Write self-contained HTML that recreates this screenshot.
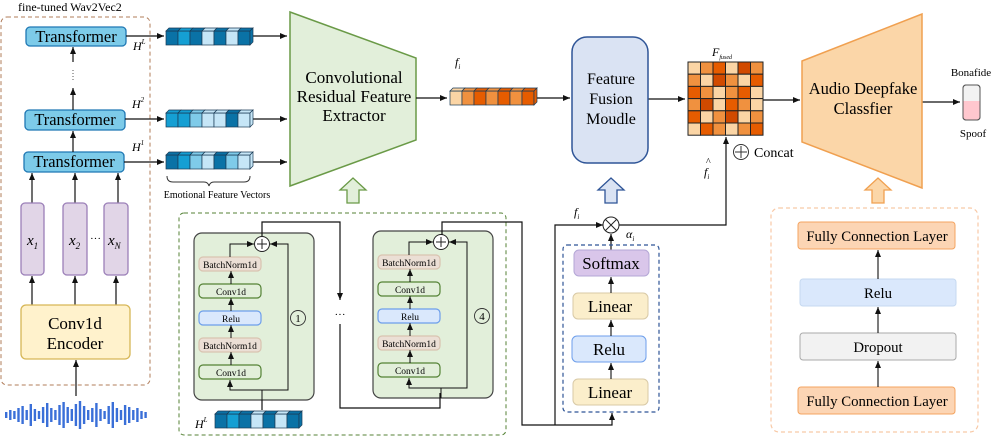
<!DOCTYPE html>
<html><head><meta charset="utf-8"><style>
html,body{margin:0;padding:0;background:#fff}
svg{display:block;font-family:"Liberation Serif",serif}
</style></head><body>
<svg id="s" width="996" height="437" viewBox="0 0 996 437" xmlns="http://www.w3.org/2000/svg">
<defs>
<marker id="a" markerWidth="8" markerHeight="8" refX="7" refY="4" orient="auto" markerUnits="userSpaceOnUse"><path d="M0,1 L7,4 L0,7 z" fill="#111"/></marker>
</defs>
<rect x="1" y="17" width="149" height="368" rx="6" fill="none" stroke="#b07c5a" stroke-dasharray="4,3"/>
<text x="18" y="11" font-size="12">fine-tuned Wav2Vec2</text>
<g stroke="#1f78b4" stroke-width="1.3" fill="#7dcbe9">
<rect x="26" y="27" width="100" height="19" rx="4"/>
<rect x="25" y="110" width="100" height="20" rx="4"/>
<rect x="24" y="152" width="100" height="20" rx="4"/>
</g>
<g font-size="16.4" text-anchor="middle"><text x="76" y="42">Transformer</text><text x="75" y="125">Transformer</text><text x="74" y="167">Transformer</text></g>
<g stroke="#111" stroke-width="1.2" fill="none" marker-end="url(#a)">
<line x1="73" y1="110" x2="73" y2="88"/><line x1="73" y1="62" x2="73" y2="47"/>
<line x1="73" y1="152" x2="73" y2="131"/>
<line x1="32" y1="203" x2="32" y2="173"/><line x1="75" y1="203" x2="75" y2="173"/><line x1="118" y1="203" x2="118" y2="173"/>
<line x1="32" y1="305" x2="32" y2="276"/><line x1="75" y1="305" x2="75" y2="276"/><line x1="116" y1="305" x2="116" y2="276"/>
<line x1="76" y1="396" x2="76" y2="360"/>
<line x1="126" y1="36" x2="164" y2="36"/><line x1="125" y1="119" x2="164" y2="119"/><line x1="124" y1="162" x2="164" y2="162"/>
<line x1="250" y1="36" x2="287" y2="36"/><line x1="250" y1="119" x2="287" y2="119"/><line x1="250" y1="162" x2="287" y2="162"/>
</g>
<line x1="73" y1="70" x2="73" y2="82" stroke="#555" stroke-dasharray="1,2"/>
<g stroke="#9b7fb8" stroke-width="1.3" fill="#e1d5e7">
<rect x="21" y="203" width="23" height="72" rx="4"/><rect x="63" y="203" width="24" height="72" rx="4"/><rect x="104" y="203" width="24" height="72" rx="4"/>
</g>
<g font-size="15" font-style="italic"><text x="27" y="245">x<tspan font-size="9" dy="4">1</tspan></text><text x="69" y="245">x<tspan font-size="9" dy="4">2</tspan></text><text x="108" y="245">x<tspan font-size="9" dy="4">N</tspan></text></g>
<text x="90" y="242" font-size="11">···</text>
<rect x="21" y="305" width="109" height="54" rx="5" fill="#fff2cc" stroke="#d6b656" stroke-width="1.3"/>
<g font-size="17" text-anchor="middle"><text x="75" y="329">Conv1d</text><text x="75" y="349">Encoder</text></g>
<g font-size="12" font-style="italic"><text x="133" y="50">H<tspan font-size="7" dy="-6">L</tspan></text><text x="132" y="108">H<tspan font-size="7" dy="-6">2</tspan></text><text x="132" y="151">H<tspan font-size="7" dy="-6">1</tspan></text>
<text x="195" y="428">H<tspan font-size="7" dy="-6">L</tspan></text><text x="455" y="66">f<tspan font-size="7" dy="3">i</tspan></text>
<text x="574" y="216">f<tspan font-size="7" dy="3">i</tspan></text><text x="626" y="238">α<tspan font-size="7" dy="3">i</tspan></text>
<text x="704" y="176">f<tspan font-size="7" dy="3">i</tspan></text><text x="712" y="56">F<tspan font-size="6" dy="3">fused</tspan></text></g>
<text x="706" y="165" font-size="10">^</text>
<path d="M167,176 q0,6 6,6 h31 q4,0 5,4 q1,-4 5,-4 h30 q6,0 6,-6" fill="none" stroke="#333"/>
<text x="217" y="198" font-size="10" text-anchor="middle">Emotional Feature Vectors</text>
<path d="M290,12 L416,58 L416,140 L290,186 Z" fill="#e2efda" stroke="#6a9a47" stroke-width="1.5"/>
<g font-size="17" text-anchor="middle"><text x="354" y="83">Convolutional</text><text x="354" y="102">Residual Feature</text><text x="354" y="121">Extractor</text></g>
<g stroke="#111" stroke-width="1.2" fill="none" marker-end="url(#a)">
<line x1="416" y1="98" x2="447" y2="98"/><line x1="536" y1="98" x2="570" y2="98"/>
<line x1="648" y1="99" x2="685" y2="99"/><line x1="763" y1="100" x2="800" y2="100"/><line x1="922" y1="102" x2="960" y2="102"/>
</g>
<rect x="572" y="37" width="76" height="126" rx="15" fill="#dae3f3" stroke="#2f5597" stroke-width="1.5"/>
<g font-size="16" text-anchor="middle"><text x="611" y="84">Feature</text><text x="611" y="104">Fusion</text><text x="611" y="124">Moudle</text></g>
<path d="M802,61 L922,14 L922,188 L802,142 Z" fill="#fbd6a8" stroke="#f0a050" stroke-width="1.5"/>
<g font-size="16.5" text-anchor="middle"><text x="863" y="94">Audio Deepfake</text><text x="863" y="114">Classfier</text></g>
<text x="971" y="76" font-size="11" text-anchor="middle">Bonafide</text><text x="973" y="137" font-size="11" text-anchor="middle">Spoof</text>
<rect x="963" y="85" width="17" height="35" rx="3" fill="#f2f2f2" stroke="#555"/>
<path d="M963.5,101 h16 v16 q0,2.5 -3,2.5 h-10 q-3,0 -3,-2.5 z" fill="#ffc7ce"/>
<rect x="963" y="85" width="17" height="35" rx="3" fill="none" stroke="#555"/>
<circle cx="741" cy="152" r="7.5" fill="none" stroke="#333"/><path d="M735,152h12M741,146v12" stroke="#333"/>
<text x="754" y="157" font-size="14">Concat</text>
<path d="M347,203 v-13 h-7 l13,-12 l13,12 h-7 v13 z" fill="#e2efda" stroke="#6a9a47" stroke-width="1.3"/>
<path d="M605,203 v-13 h-7 l13,-12 l13,12 h-7 v13 z" fill="#dae3f3" stroke="#2f5597" stroke-width="1.3"/>
<path d="M872,203 v-13 h-7 l13,-12 l13,12 h-7 v13 z" fill="#fbd6a8" stroke="#f0a050" stroke-width="1.3"/>
<rect x="179" y="213" width="327" height="222" rx="5" fill="none" stroke="#548235" stroke-dasharray="4,3"/>
<rect x="194" y="233" width="120" height="167" rx="8" fill="#e2efda" stroke="#444" stroke-width="1.2"/>
<rect x="373" y="231" width="120" height="167" rx="8" fill="#e2efda" stroke="#444" stroke-width="1.2"/>
<g id="blk"></g>
<g font-size="9.5" text-anchor="middle">
<text x="230" y="268">BatchNorm1d</text><text x="231" y="295">Conv1d</text><text x="231" y="322">Relu</text><text x="230" y="349">BatchNorm1d</text><text x="231" y="376">Conv1d</text>
<text x="409" y="266">BatchNorm1d</text><text x="410" y="293">Conv1d</text><text x="410" y="320">Relu</text><text x="409" y="347">BatchNorm1d</text><text x="410" y="374">Conv1d</text>
</g>
<g font-size="15" fill="none" stroke="#333" stroke-width="0.9"><circle cx="298" cy="318" r="7.5"/><circle cx="482" cy="316" r="7.5"/></g>
<g font-size="11" text-anchor="middle"><text x="298" y="322">1</text><text x="482" y="320">4</text></g>
<text x="340" y="318" font-size="11" text-anchor="middle">···</text>
<g stroke="#111" stroke-width="1.2" fill="none">
<polyline points="262,236 262,222 340,222 340,300" marker-end="url(#a)"/>
<polyline points="340,324 340,408 440,408 440,393"/>
<polyline points="442,235 442,222 522,222 522,425 612,425 612,413" marker-end="url(#a)"/>
<polyline points="555,425 555,225 603,225" marker-end="url(#a)"/>
<polyline points="619,225 726,225 726,137" marker-end="url(#a)"/>
<line x1="611" y1="250" x2="611" y2="234" marker-end="url(#a)"/>
<line x1="262" y1="410" x2="262" y2="400"/>
</g>
<circle cx="611" cy="225" r="8" fill="#fff" stroke="#222"/><path d="M605.5,219.5l11,11M616.5,219.5l-11,11" stroke="#222"/>
<rect x="563" y="245" width="96" height="167" rx="4" fill="none" stroke="#2f5597" stroke-dasharray="4,3" stroke-width="1.2"/>
<rect x="574" y="250" width="75" height="26" rx="5" fill="#d9c6ea" stroke="#b4a7d6"/>
<rect x="573" y="293" width="75" height="26" rx="5" fill="#fbeecb" stroke="#d8c9a6"/>
<rect x="572" y="336" width="74" height="26" rx="5" fill="#dae8fc" stroke="#6d9eeb"/>
<rect x="573" y="379" width="75" height="26" rx="5" fill="#fbeecb" stroke="#d8c9a6"/>
<g font-size="17" text-anchor="middle"><text x="611" y="269">Softmax</text><text x="610" y="312">Linear</text><text x="609" y="355">Relu</text><text x="610" y="398">Linear</text></g>
<g stroke="#111" stroke-width="1.1" marker-end="url(#a)"><line x1="611" y1="293" x2="611" y2="277"/><line x1="611" y1="336" x2="611" y2="320"/><line x1="611" y1="379" x2="611" y2="363"/></g>
<rect x="771" y="208" width="207" height="224" rx="8" fill="none" stroke="#f8c9a6" stroke-dasharray="4,3" stroke-width="1.2"/>
<rect x="798" y="222" width="157" height="27" rx="3" fill="#fcd5b4" stroke="#f4a460"/>
<rect x="800" y="279" width="156" height="27" rx="3" fill="#dae8fc" stroke="#c6d9f0"/>
<rect x="800" y="333" width="156" height="27" rx="3" fill="#f2f2f2" stroke="#aaa"/>
<rect x="798" y="387" width="157" height="27" rx="3" fill="#fcd5b4" stroke="#f4a460"/>
<g font-size="14.8" text-anchor="middle"><text x="877" y="241">Fully Connection Layer</text><text x="878" y="298">Relu</text><text x="878" y="352">Dropout</text><text x="877" y="406">Fully Connection Layer</text></g>
<g stroke="#111" stroke-width="1.1" marker-end="url(#a)"><line x1="878" y1="279" x2="878" y2="250"/><line x1="878" y1="333" x2="878" y2="307"/><line x1="878" y1="387" x2="878" y2="361"/></g>
</svg>
<script>
var NS="http://www.w3.org/2000/svg",svg=document.getElementById('s'),B=document.getElementById('blk');
function el(t,a,p){var e=document.createElementNS(NS,t);for(var k in a)e.setAttribute(k,a[k]);(p||svg).appendChild(e);return e;}
var D="#0a72a6",M="#159fd3",L="#c6e6f7",K="#7fcbe9";
function vec(x,y,cols,w){w=w||12;var h=14;
 for(var i=0;i<cols.length;i++){el('rect',{x:x+i*w,y:y+3,width:w,height:h,fill:cols[i],stroke:'#1a3a55','stroke-width':0.7});
  el('path',{d:'M'+(x+i*w)+','+(y+3)+' l3,-3 h'+w+' l-3,3 z',fill:cols[i],stroke:'#1a3a55','stroke-width':0.7});}
 var r=x+cols.length*w;el('path',{d:'M'+r+','+(y+3)+' l3,-3 v'+h+' l-3,3 z',fill:cols[cols.length-1],stroke:'#1a3a55','stroke-width':0.7});}
vec(166,28,[D,M,D,L,D,L,D]);vec(166,110,[M,M,K,L,L,D,L]);vec(166,152,[D,M,K,L,D,K,L]);vec(215,411,[D,M,D,L,D,L,D]);
var o1="#fbd5a5",o2="#f0913f",o3="#e65c00",o4="#d14a00";
vec(450,88,[o1,o2,o3,o2,o3,o2,o3],12);
var G=[[o1,o2,o3,o1,o4,o2],[o2,o1,o4,o2,o1,o3],[o3,o2,o1,o2,o3,o1],[o2,o4,o1,o3,o2,o1],[o3,o1,o2,o4,o1,o2],[o1,o3,o2,o1,o2,o3]];
for(var r=0;r<6;r++)for(var c=0;c<6;c++)el('rect',{x:688+c*12.5,y:62+r*12.2,width:12.5,height:12.2,fill:G[r][c],stroke:'#222','stroke-width':1});
var hs=[6,10,8,14,18,10,22,12,8,16,24,14,10,20,26,16,12,22,28,18,10,14,24,12,8,18,26,14,10,20,16,10,14,8,6];
for(var i=0;i<hs.length;i++){el('rect',{x:5+i*4.1,y:415-hs[i]/2,width:2.4,height:hs[i],fill:'#3a6fd8'});}
function blk(x0,dy){
 var c=x0+37;
 var spec=[[257,'#ebdfd5','#d9c3b0'],[284,'#e2efda','#548235'],[311,'#dae8fc','#6d9eeb'],[338,'#ebdfd5','#d9c3b0'],[365,'#e2efda','#548235']];
 spec.forEach(function(s){el('rect',{x:x0+5,y:s[0]+dy,width:62,height:14,rx:4,fill:s[1],stroke:s[2],'stroke-width':1.2},B);});
 var px=x0+68,py=244+dy,bot=400+dy;
 [[365,353],[338,326],[311,299],[284,272]].forEach(function(p){el('line',{x1:c,y1:p[0]+dy,x2:c,y2:p[1]+dy-1,stroke:'#111','marker-end':'url(#a)'},B);});
 el('polyline',{points:px+','+bot+' '+px+','+(390+dy)+' '+(c-1)+','+(390+dy)+' '+(c-1)+','+(380+dy),fill:'none',stroke:'#111','marker-end':'url(#a)'},B);
 el('polyline',{points:px+','+(390+dy)+' '+(x0+94)+','+(390+dy)+' '+(x0+94)+','+py+' '+(px+8)+','+py,fill:'none',stroke:'#111','marker-end':'url(#a)'},B);
 el('polyline',{points:(c-1)+','+(257+dy)+' '+(c-1)+','+py+' '+(px-8)+','+py,fill:'none',stroke:'#111','marker-end':'url(#a)'},B);
 el('circle',{cx:px,cy:py,r:7.5,fill:'#fff',stroke:'#222'},B);
 el('path',{d:'M'+(px-5)+','+py+'h10M'+px+','+(py-5)+'v10',stroke:'#222'},B);
}
blk(194,0);blk(373,-2);
</script>
</body></html>
